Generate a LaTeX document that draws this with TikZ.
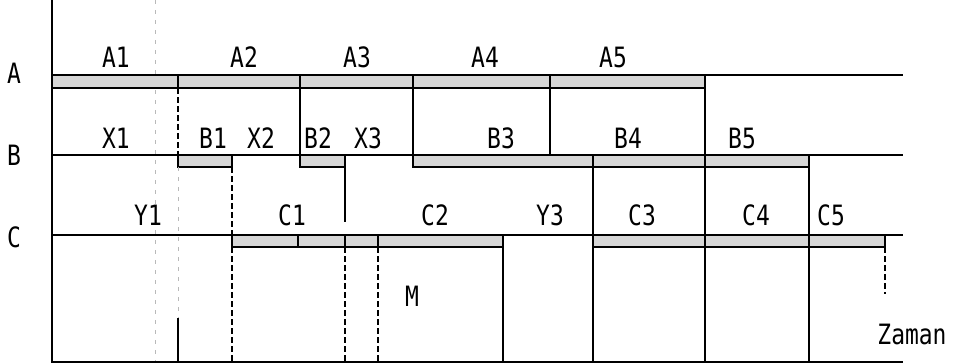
\documentclass[tikz,border=0pt]{standalone}
\usepackage{fontspec}
\newfontfamily\chartfont[FakeStretch=0.82]{DejaVu Sans Mono}
\tikzset{
  lab/.style={font=\chartfont\fontsize{28}{30}\selectfont, inner sep=0pt, anchor=center},
  axisline/.style={line width=1.8pt, black},
  barbox/.style={draw=black, line width=1.4pt, fill=gray!32},
  vsolid/.style={line width=1.2pt, black},
  vdash/.style={line width=1.1pt, black, dash pattern=on 6pt off 3pt},
  faint/.style={line width=0.8pt, gray!55, dash pattern=on 4pt off 6pt}
}
\begin{document}
\begin{tikzpicture}[x=1pt,y=-1pt]
\useasboundingbox (0,0) rectangle (956,364);
% faint scan line
\draw[faint] (155,0) -- (155,362);
% axes
\draw[axisline] (52,0) -- (52,362) -- (903,362);
\draw[axisline] (52,75) -- (903,75);
\draw[axisline] (52,155) -- (903,155);
\draw[axisline] (52,235) -- (903,235);
% A bars
\draw[barbox] (52,75) rectangle (178,88);
\draw[barbox] (178,75) rectangle (300,88);
\draw[barbox] (300,75) rectangle (413,88);
\draw[barbox] (413,75) rectangle (550,88);
\draw[barbox] (550,75) rectangle (705,88);
% B bars
\draw[barbox] (178,155) rectangle (232,167);
\draw[barbox] (300,155) rectangle (345,167);
\draw[barbox] (413,155) rectangle (593,167);
\draw[barbox] (593,155) rectangle (705,167);
\draw[barbox] (705,155) rectangle (809,167);
% C bars
\draw[barbox] (232,235) rectangle (298,247);
\draw[barbox] (298,235) rectangle (345,247);
\draw[barbox] (345,235) rectangle (378,247);
\draw[barbox] (378,235) rectangle (503,247);
\draw[barbox] (593,235) rectangle (705,247);
\draw[barbox] (705,235) rectangle (809,247);
\draw[barbox] (809,235) rectangle (885,247);
% verticals
\draw[vdash] (178,88) -- (178,155);
\draw[faint] (178,167) -- (178,318);
\draw[vsolid] (178,318) -- (178,362);
\draw[vsolid] (300,88) -- (300,155);
\draw[vsolid] (413,88) -- (413,155);
\draw[vsolid] (550,88) -- (550,155);
\draw[vsolid] (705,88) -- (705,155);
\draw[vsolid] (705,167) -- (705,235);
\draw[vsolid] (705,247) -- (705,362);
\draw[vdash] (232,167) -- (232,235);
\draw[vdash] (232,247) -- (232,362);
\draw[vsolid] (345,167) -- (345,222);
\draw[vdash] (345,247) -- (345,362);
\draw[vdash] (378,247) -- (378,362);
\draw[vsolid] (503,247) -- (503,362);
\draw[vsolid] (593,167) -- (593,235);
\draw[vsolid] (593,247) -- (593,362);
\draw[vsolid] (809,167) -- (809,235);
\draw[vsolid] (809,247) -- (809,362);
\draw[vdash] (885,247) -- (885,294);
% row labels
\node[lab] (rA) at (14,73) {A};
\node[lab] (rB) at (14,155) {B};
\node[lab] (rC) at (14,237) {C};
% A labels
\node[lab] (A1) at (116,57) {A1};
\node[lab] (A2) at (244,57) {A2};
\node[lab] (A3) at (357,57) {A3};
\node[lab] (A4) at (485,57) {A4};
\node[lab] (A5) at (613,57) {A5};
% B labels
\node[lab] (X1) at (116,138) {X1};
\node[lab] (B1) at (213,138) {B1};
\node[lab] (X2) at (261,138) {X2};
\node[lab] (B2) at (318,138) {B2};
\node[lab] (X3) at (368,138) {X3};
\node[lab] (B3) at (501,138) {B3};
\node[lab] (B4) at (628,138) {B4};
\node[lab] (B5) at (742,138) {B5};
% C labels
\node[lab] (Y1) at (148,215) {Y1};
\node[lab] (C1) at (292,215) {C1};
\node[lab] (C2) at (435,215) {C2};
\node[lab] (Y3) at (550,215) {Y3};
\node[lab] (C3) at (642,215) {C3};
\node[lab] (C4) at (756,215) {C4};
\node[lab] (C5) at (831,215) {C5};
\node[lab] (M) at (412,296) {M};
\node[lab] (Z) at (912,334) {Zaman};
\end{tikzpicture}
\end{document}
